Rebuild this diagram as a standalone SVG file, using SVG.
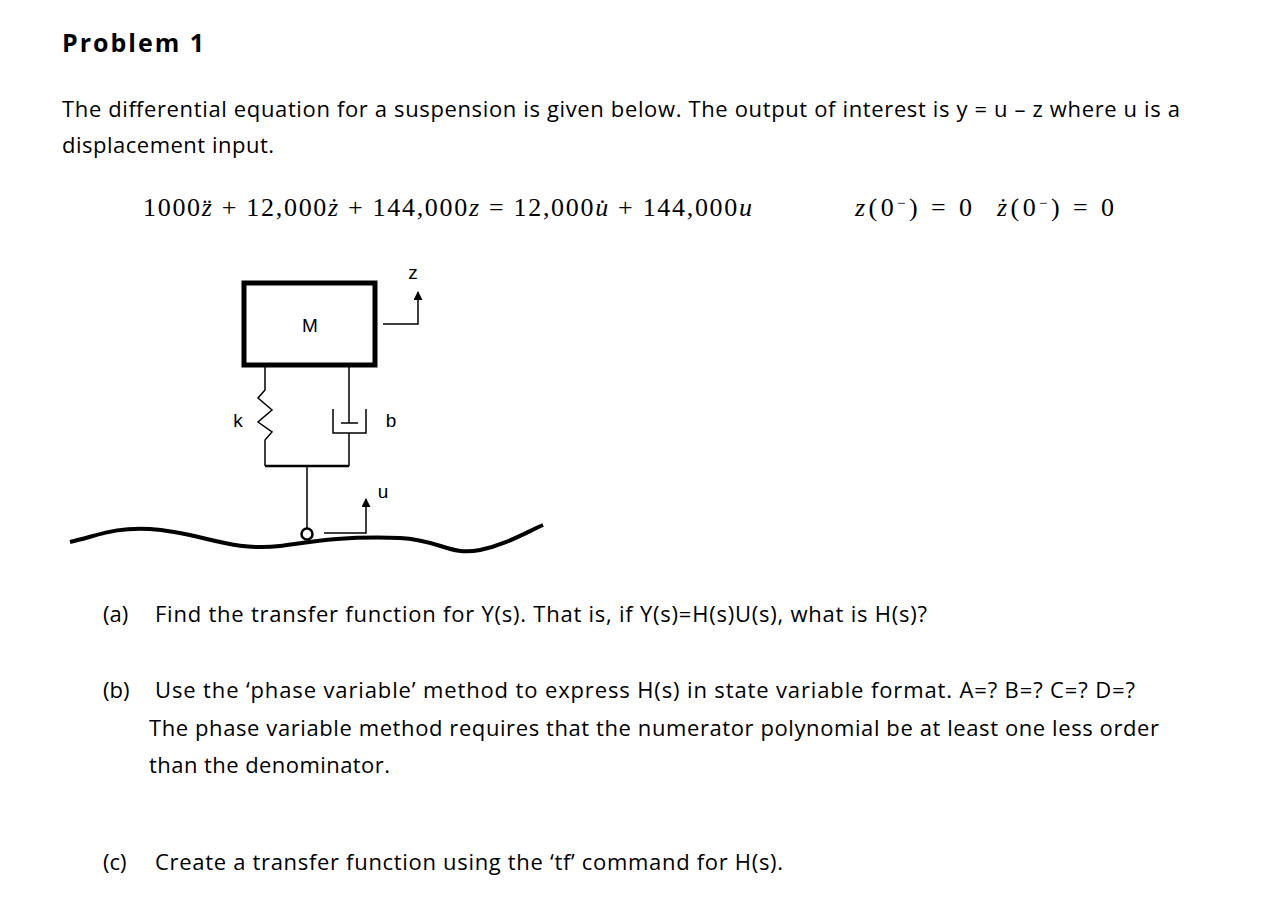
<svg xmlns="http://www.w3.org/2000/svg" width="1262" height="902" viewBox="0 0 1262 902">
<style>
.t{font-family:"Open Sans","Liberation Sans",sans-serif;font-size:22px;fill:#000}
.m{font-family:"Liberation Serif",serif;font-size:26px;fill:#000}
.l{font-family:"Liberation Sans",sans-serif;font-size:19px;fill:#000}
.ln{stroke:#000;fill:none;stroke-width:1.5}
</style>
<defs><marker id="ah" viewBox="0 0 10 10" refX="9" refY="5" markerWidth="10" markerHeight="9" orient="auto" markerUnits="userSpaceOnUse"><path d="M0,0 L10,5 L0,10 Z" fill="#000"/></marker></defs>
<rect width="1262" height="902" fill="#fff"/>
<text x="62" y="52" class="t" style="font-weight:bold;font-size:25px" textLength="142">Problem 1</text>
<text x="62" y="117" class="t" textLength="1118">The differential equation for a suspension is given below.  The output of interest is y = u – z where u is a</text>
<text x="62" y="153" class="t" textLength="212">displacement input.</text>
<text x="143" y="216" class="m" textLength="609">1000<tspan font-style="italic">z̈</tspan> + 12,000<tspan font-style="italic">ż</tspan> + 144,000<tspan font-style="italic">z</tspan> = 12,000<tspan font-style="italic">u̇</tspan> + 144,000<tspan font-style="italic">u</tspan></text>
<text x="855" y="216" class="m" textLength="117"><tspan font-style="italic">z</tspan>(0<tspan baseline-shift="super" font-size="15">−</tspan>) = 0</text>
<text x="997" y="216" class="m" textLength="117"><tspan font-style="italic">ż</tspan>(0<tspan baseline-shift="super" font-size="15">−</tspan>) = 0</text>
<g id="mass"><rect x="244" y="283" width="131" height="82" fill="none" stroke="#000" stroke-width="5"/><text x="310" y="332" class="l" text-anchor="middle">M</text></g>
<g id="spring"><path class="ln" d="M265,367 V390 L258,398 L272,410 L258,422 L272,432 L265,440 V466"/><text x="238" y="427" class="l" text-anchor="middle">k</text></g>
<g id="damper"><path class="ln" d="M349,367 V423 M341,423 H358 M333,409 V433 H366 V409 M349,433 V466"/><text x="391" y="427" class="l" text-anchor="middle">b</text></g>
<g id="base"><path d="M265,466 H349" stroke="#000" stroke-width="2.5"/><path class="ln" d="M307,466 V528"/><circle cx="307" cy="534" r="5.5" fill="#fff" stroke="#000" stroke-width="2.5"/></g>
<g id="road"><path d="M70,542 C100,535 115,527 150,529 C200,532 230,552 280,546 C310,542 340,536 400,538 C440,540 450,556 480,550 C505,545 525,533 543,525" fill="none" stroke="#000" stroke-width="4"/></g>
<g id="connectors">
<path class="ln" d="M383,324 H418 V292" marker-end="url(#ah)"/>
<path class="ln" d="M324,533 H366 V499" marker-end="url(#ah)"/>
</g>
<text x="413" y="279" class="l" text-anchor="middle">z</text>
<text x="383" y="498" class="l" text-anchor="middle">u</text>
<text x="103" y="622" class="t">(a)</text><text x="155" y="622" class="t" textLength="772">Find the transfer function for Y(s).  That is, if Y(s)=H(s)U(s), what is H(s)?</text>
<text x="103" y="698" class="t">(b)</text><text x="155" y="698" class="t" textLength="980">Use the ‘phase variable’ method to express H(s) in state variable format. A=? B=? C=? D=?</text>
<text x="149" y="736" class="t" textLength="1010">The phase variable method requires that the numerator polynomial be at least one less order</text>
<text x="149" y="773" class="t" textLength="241">than the denominator.</text>
<text x="103" y="870" class="t">(c)</text><text x="155" y="870" class="t" textLength="628">Create a transfer function using the ‘tf’ command for H(s).</text>
</svg>
